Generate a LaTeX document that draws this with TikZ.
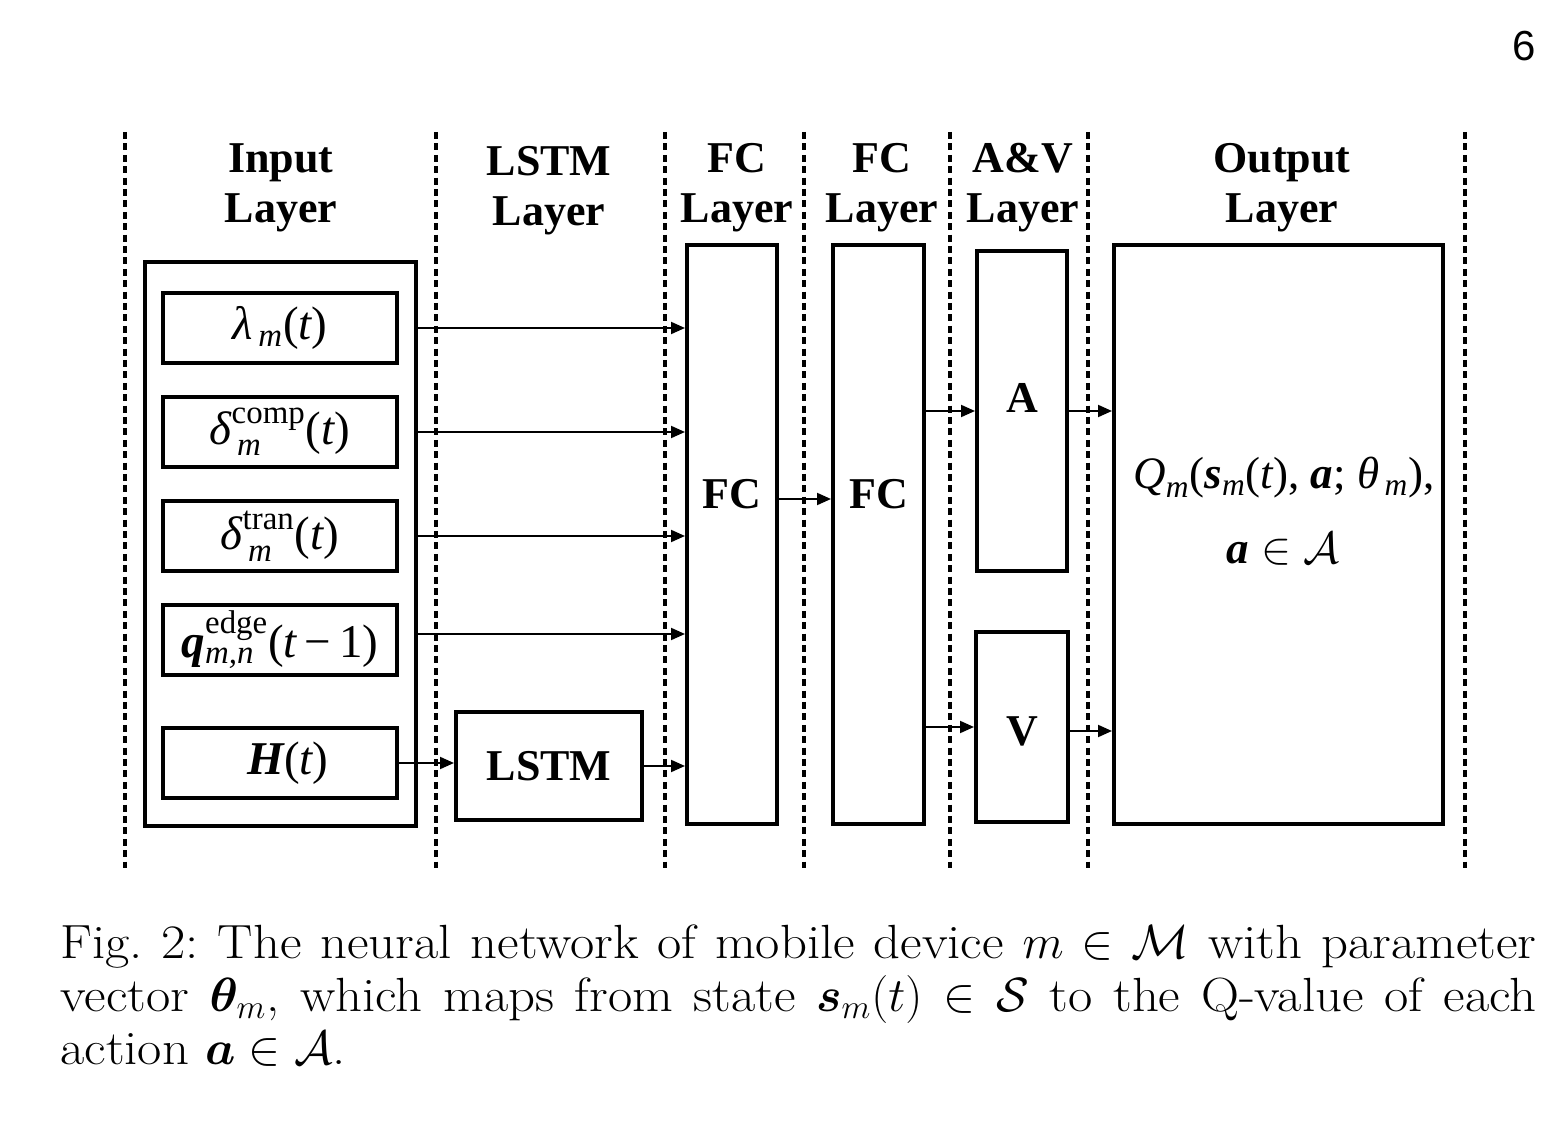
\RequirePackage{fix-cm}
\documentclass[tikz,border=0pt]{standalone}
\usepackage{amsmath,amssymb,bm}
\usepackage{fontspec}
\usetikzlibrary{arrows.meta,calc}
\newfontfamily\tnr{Liberation Serif}
\newfontfamily\arial{Liberation Sans}
\newfontfamily\capfont[FakeStretch=1.1]{Latin Modern Roman}
\newcommand\mi[1]{\text{\tnr\itshape\mdseries #1}}
\newcommand\mup[1]{\text{\tnr\upshape\mdseries #1}}
\newcommand\mbi[1]{\text{\tnr\itshape\bfseries #1}}
\tikzset{
  sep/.style={line width=1.6pt, dash pattern=on 3.5pt off 2.2pt},
  bigbox/.style={draw, line width=2pt, rectangle, inner sep=0pt},
  inbox/.style={draw, line width=1.6pt, rectangle, inner sep=0pt,
    minimum width=117pt, minimum height=35pt, font=\tnr\fontsize{23.5}{26}\selectfont},
  head/.style={align=center, font=\tnr\bfseries\fontsize{22}{25}\selectfont, inner sep=0pt},
  lab/.style={font=\tnr\bfseries\fontsize{22}{26}\selectfont, inner sep=0pt},
  mtext/.style={font=\tnr\fontsize{22.5}{26}\selectfont, inner sep=0pt},
  arr/.style={line width=1pt, -{Triangle[length=7pt,width=6pt]}}
}
\begin{document}
\begin{tikzpicture}[x=0.5pt,y=-0.5pt]
\useasboundingbox (0,0) rectangle (1544,1128);
% separators
\foreach \xx in {125,436,665,804,950,1088,1465}
  \draw[sep] (\xx,132) -- (\xx,868);
% headers
\node[head] (h1) at (281,188) {Input\\Layer};
\node[head] (h2) at (549,191) {LSTM\\Layer};
\node[head] (h3) at (737,188) {FC\\Layer};
\node[head] (h4) at (882,188) {FC\\Layer};
\node[head] (h5) at (1023,188) {A\&V\\Layer};
\node[head] (h6) at (1282,188) {Output\\Layer};
% input layer
\node[bigbox, minimum width=135.5pt, minimum height=282pt] (inp) at (280.5,544) {};
\node[inbox] (lam) at (280,328) {$\mi{λ}_{\,\mi{m}}\mup{(}\mi{t}\mup{)}$};
\node[inbox] (dcomp) at (280,432) {$\mi{δ}^{\mup{comp}}_{\,\mi{m}}\mup{(}\mi{t}\mup{)}$};
\node[inbox] (dtran) at (280,536) {$\mi{δ}^{\mup{tran}}_{\,\mi{m}}\mup{(}\mi{t}\mup{)}$};
\node[inbox] (qe) at (280,640) {$\mbi{q}^{\mup{edge}}_{\mi{m,n}}\mup{(}\mi{t}\mup{\,−\,1)}$};
\node[inbox] (H) at (280,763) {\hspace*{8pt}$\mbi{H}\mup{(}\mi{t}\mup{)}$};
% LSTM
\node[bigbox, minimum width=93pt, minimum height=54pt, lab] (lstm) at (549,766) {LSTM};
% FC layers
\node[bigbox, minimum width=45pt, minimum height=289.5pt] (fc1) at (732,534.5) {};
\node[lab] (fc1l) at (732,494) {FC};
\node[bigbox, minimum width=45.5pt, minimum height=289.5pt] (fc2) at (878.5,534.5) {};
\node[lab] (fc2l) at (879,494) {FC};
% A & V
\node[bigbox, minimum width=45pt, minimum height=160pt] (abox) at (1022,411) {};
\node[lab] (al) at (1022,398) {A};
\node[bigbox, minimum width=46pt, minimum height=95pt] (vbox) at (1022,727) {};
\node[lab] (vl) at (1022,731) {V};
% output
\node[bigbox, minimum width=164.5pt, minimum height=289.5pt] (out) at (1278.5,534.5) {};
\node[mtext] (q1) at (1284,478) {$\mi{Q}_{\mi{m}}\mup{(}\mbi{s}_{\mi{m}}\mup{(}\mi{t}\mup{), }\mbi{a}\mup{; }\mi{θ}_{\,\mi{m}}\mup{),}$};
\node[mtext] (q2) at (1283,549) {$\mbi{a}\mathrel{\in}\mathcal{A}$};
% arrows
\draw[arr] (inp.east |- lam) -- (fc1.west |- lam);
\draw[arr] (inp.east |- dcomp) -- (fc1.west |- dcomp);
\draw[arr] (inp.east |- dtran) -- (fc1.west |- dtran);
\coordinate (qa) at (500,634);
\draw[arr] (inp.east |- qa) -- (fc1.west |- qa);
\draw[arr] (H.east) -- (lstm.west |- H);
\draw[arr] (lstm.east) -- (fc1.west |- lstm);
\coordinate (m1) at (800,499);
\draw[arr] (fc1.east |- m1) -- (fc2.west |- m1);
\draw[arr] (fc2.east |- abox) -- (abox.west);
\draw[arr] (abox.east) -- (out.west |- abox);
\draw[arr] (fc2.east |- vbox) -- (vbox.west);
\coordinate (va) at (1090,731);
\draw[arr] (vbox.east |- va) -- (out.west |- va);
% page number
\node[font=\arial\fontsize{21}{24}\selectfont, inner sep=0pt] (pg) at (1524,46) {6};
% caption
\node[anchor=north west, inner sep=0pt, text width=738pt, align=justify,
  font=\capfont\frenchspacing\fontsize{24}{26.5}\selectfont] (cap) at (60,924)
  {Fig.~2: The neural network of mobile device $m \in \mathcal{M}$ with parameter\linebreak
   vector $\bm{\theta}_m$, which maps from state $\bm{s}_m(t) \in \mathcal{S}$ to the Q-value of each\linebreak
   action $\bm{a} \in \mathcal{A}$.};
\end{tikzpicture}
\end{document}
